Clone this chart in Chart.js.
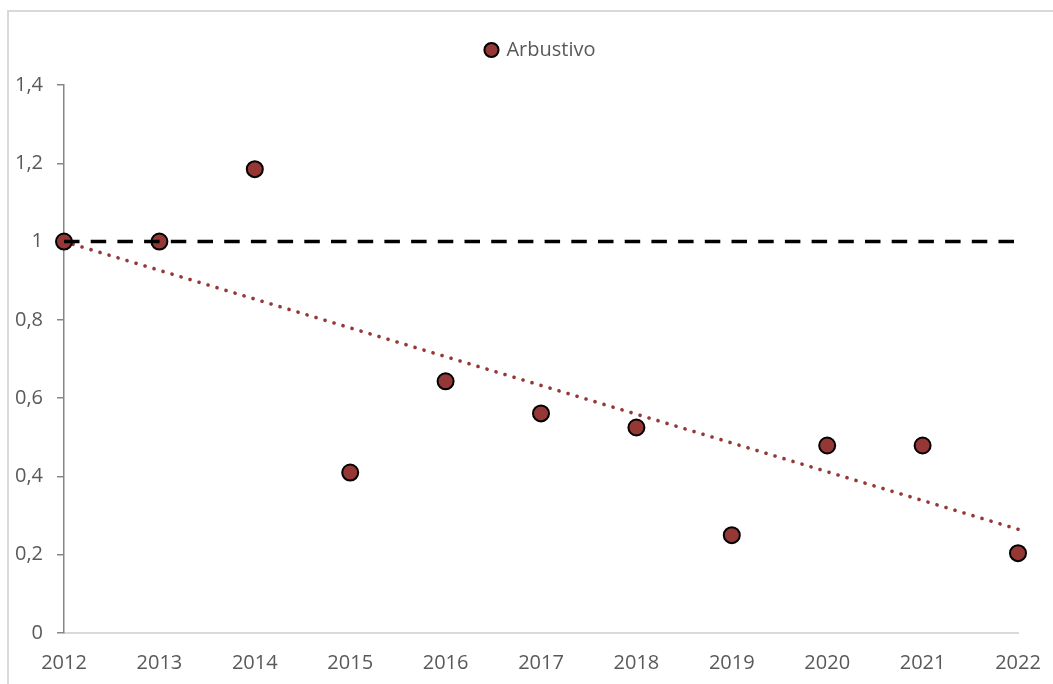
<!DOCTYPE html>
<html>
<head>
<meta charset="utf-8">
<script src="https://cdn.jsdelivr.net/npm/chart.js@4.4.1/dist/chart.umd.min.js"></script>
<style>
  html, body { margin: 0; padding: 0; background: #fff; overflow: hidden; }
  #marco { position: absolute; left: 7px; top: 10px; width: 1100px; height: 700px; border: 2px solid #d9d9d9; }
  #chart { position: absolute; left: 0; top: 0; }
</style>
</head>
<body>
<div id="marco"></div>
<canvas id="chart" width="1053" height="684"></canvas>
<script>
// datos de la serie (índice relativo a 2012)
const anios = [2012, 2013, 2014, 2015, 2016, 2017, 2018, 2019, 2020, 2021, 2022];
const arbustivo = [1, 1, 1.185, 0.41, 0.643, 0.561, 0.525, 0.25, 0.479, 0.479, 0.204];
// línea de referencia en 1 y tendencia lineal (extremos)
const referencia = [1, 1];
const tendencia = [1.0, 0.265];
const etiquetasY = ['0', '0,2', '0,4', '0,6', '0,8', '1', '1,2', '1,4'];

const fuente = { family: "'Open Sans', sans-serif", size: 20 };
const gris = '#595959';
const rojo = '#953735';

// centra la leyenda sobre el área del gráfico y no sobre todo el lienzo
const leyendaCentrada = {
  id: 'leyendaCentrada',
  afterLayout(chart) {
    chart.legend.left = chart.chartArea.left;
    chart.legend.right = chart.chartArea.right;
    chart.legend.width = chart.chartArea.right - chart.chartArea.left;
  }
};

const ctx = document.getElementById("chart").getContext("2d");
const data = {
  datasets: [
    {
      label: 'Referencia',
      data: [
        { x: anios[0], y: referencia[0] },
        { x: anios[anios.length - 1], y: referencia[1] }
      ],
      showLine: true,
      borderColor: '#000',
      borderWidth: 3.5,
      borderDash: [15.5, 11.2],
      pointRadius: 0,
      clip: false,
      order: 0
    },
    {
      label: 'Arbustivo',
      data: anios.map((a, i) => ({ x: a, y: arbustivo[i] })),
      backgroundColor: rojo,
      borderColor: '#000',
      borderWidth: 2,
      pointRadius: 8,
      pointHoverRadius: 8,
      showLine: false,
      clip: false,
      order: 1
    },
    {
      label: 'Tendencia',
      data: [
        { x: anios[0], y: tendencia[0] },
        { x: anios[anios.length - 1], y: tendencia[1] }
      ],
      showLine: true,
      borderColor: rojo,
      borderWidth: 3.6,
      borderCapStyle: 'round',
      borderDash: [0.1, 9.3],
      pointRadius: 0,
      clip: false,
      order: 2
    }
  ]
};

const config = {
  type: 'scatter',
  data: data,
  plugins: [leyendaCentrada],
  options: {
    responsive: false,
    animation: false,
    layout: { padding: { top: 30, right: 35, left: 0, bottom: 0 } },
    plugins: {
      tooltip: { enabled: false },
      legend: {
        position: 'top',
        labels: {
          usePointStyle: true,
          pointStyle: 'circle',
          boxWidth: 10,
          boxHeight: 10,
          padding: 10,
          color: gris,
          font: fuente,
          filter: item => item.text === 'Arbustivo'
        }
      },
      // hueco entre la leyenda y el área del gráfico
      subtitle: {
        display: true,
        text: '',
        weight: 500,
        font: { size: 10 },
        padding: { top: 3, bottom: 0 }
      }
    },
    scales: {
      x: {
        type: 'linear',
        min: 2012,
        max: 2022,
        afterFit: s => {
          s.height = 51;
          // las etiquetas de los extremos pueden salirse del área
          s.paddingLeft = 0;
          s.paddingRight = 0;
        },
        afterBuildTicks: s => { s.ticks = anios.map(a => ({ value: a })); },
        ticks: {
          autoSkip: false,
          maxRotation: 0,
          padding: 18,
          color: gris,
          font: fuente,
          callback: v => String(v)
        },
        grid: { display: false, drawTicks: false },
        border: { color: '#d9d9d9', width: 2 }
      },
      y: {
        min: 0,
        max: 1.4,
        afterFit: s => { s.width = 64; },
        ticks: {
          stepSize: 0.2,
          padding: 14,
          color: gris,
          font: fuente,
          callback: (v, i) => etiquetasY[i]
        },
        grid: { drawOnChartArea: false, drawTicks: true, tickLength: 7, color: '#868686', lineWidth: 1.5 },
        border: { color: '#868686', width: 1.5 }
      }
    }
  }
};

const chart = new Chart(ctx, config);
</script>
</body>
</html>
